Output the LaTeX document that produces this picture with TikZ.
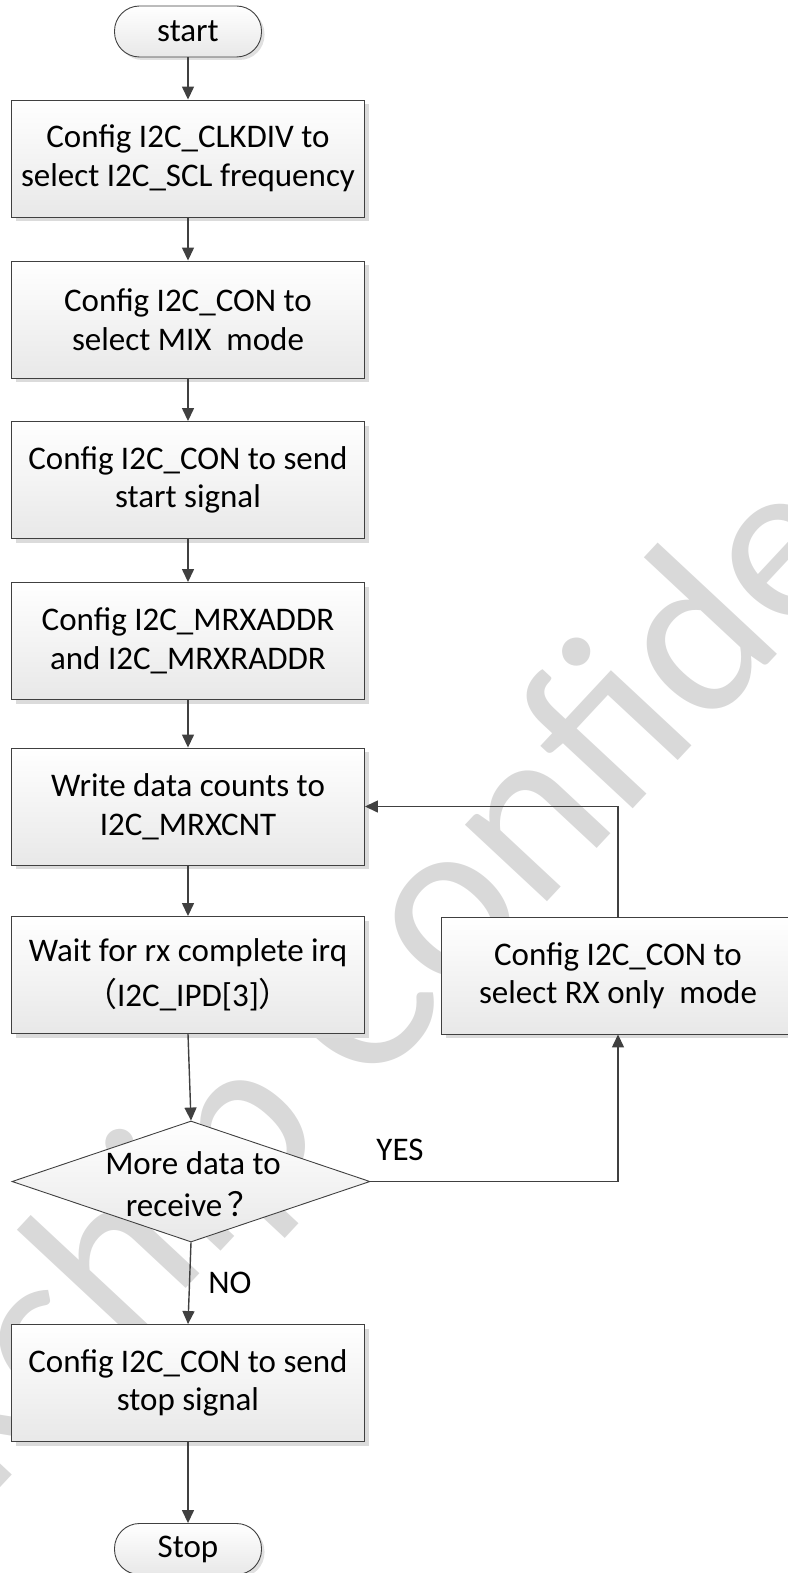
\documentclass[tikz,border=0pt]{standalone}
\usepackage{fontspec}
\setmainfont{Carlito}
\newfontfamily\cjk{Noto Sans CJK SC}
\usetikzlibrary{shapes.geometric,arrows.meta,shadows}
\definecolor{ln}{HTML}{404040}
\definecolor{wmc}{HTML}{D9D9D9}
\tikzset{
  txt/.style={font=\fontsize{33}{38.5}\selectfont},
  proc/.style={txt, draw=ln, line width=0.9pt, top color=white, bottom color=black!9,
    minimum width=353pt, minimum height=117pt, inner sep=0pt, align=center,
    drop shadow={shadow xshift=4pt, shadow yshift=-4pt, fill=black!14, opacity=1}},
  term/.style={txt, draw=ln, line width=0.9pt, top color=white, bottom color=black!9,
    rounded corners=25pt, minimum width=147pt, minimum height=51pt, inner sep=0pt,
    drop shadow={shadow xshift=3pt, shadow yshift=-3pt, fill=black!12, opacity=1}},
  dec/.style={diamond, draw=ln, line width=0.9pt, top color=white, bottom color=black!9,
    minimum width=358pt, minimum height=121pt, inner sep=0pt},
  arr/.style={draw=ln, line width=1.4pt, -{Triangle[length=13pt,width=12pt]}},
  lab/.style={txt, inner sep=0pt},
  wmark/.style={text=wmc, font=\fontsize{235}{235}\selectfont, inner sep=0pt}
}
\begin{document}
\begin{tikzpicture}[x=1pt,y=-1pt]
\useasboundingbox (0,0) rectangle (787,1573);
\begin{scope}
  \clip (0,0) rectangle (787,1573);
  \node[wmark, rotate=47, anchor=base west] (wm) at (-248,1754) {Rockchip Confidential};
\end{scope}
\node[term] (start) at (188,31.5) {start};
\node[proc] (b1) at (188,158.5) {Config I2C\_CLKDIV to\\select I2C\_SCL frequency};
\node[proc] (b2) at (188,319.5) {Config I2C\_CON to\\select MIX~~mode};
\node[proc] (b3) at (188,480) {Config I2C\_CON to send\\start signal};
\node[proc] (b4) at (188,641) {Config I2C\_MRXADDR\\and I2C\_MRXRADDR};
\node[proc] (b5) at (188,806.5) {Write data counts to\\I2C\_MRXCNT};
\node[proc] (b6) at (188,975) {Wait for rx complete irq\\[6pt]{\cjk （}I2C\_IPD[3]{\cjk ）}};
\node[proc] (rb) at (618,975.5) {Config I2C\_CON to\\select RX only~~mode};
\node[dec] (d) at (191,1181.5) {};
\node[lab, align=center] (dt) at (193,1184) {More data to\\[4pt]receive\hspace{5pt}{\cjk ？}};
\node[proc] (b7) at (188,1383) {Config I2C\_CON to send\\stop signal};
\node[term] (stop) at (188,1549) {Stop};
\node[lab] (yes) at (400,1150) {YES};
\node[lab] (no) at (230,1283) {NO};
\draw[arr] (start) -- (b1);
\draw[arr] (b1) -- (b2);
\draw[arr] (b2) -- (b3);
\draw[arr] (b3) -- (b4);
\draw[arr] (b4) -- (b5);
\draw[arr] (b5) -- (b6);
\draw[arr] (b6.south) -- (d.north);
\draw[arr] (d.south) -- (b7.north);
\draw[arr] (b7) -- (stop);
\draw[arr] (d.east) -| (rb.south);
\draw[arr] (rb.north) |- (b5.east);
\end{tikzpicture}
\end{document}
